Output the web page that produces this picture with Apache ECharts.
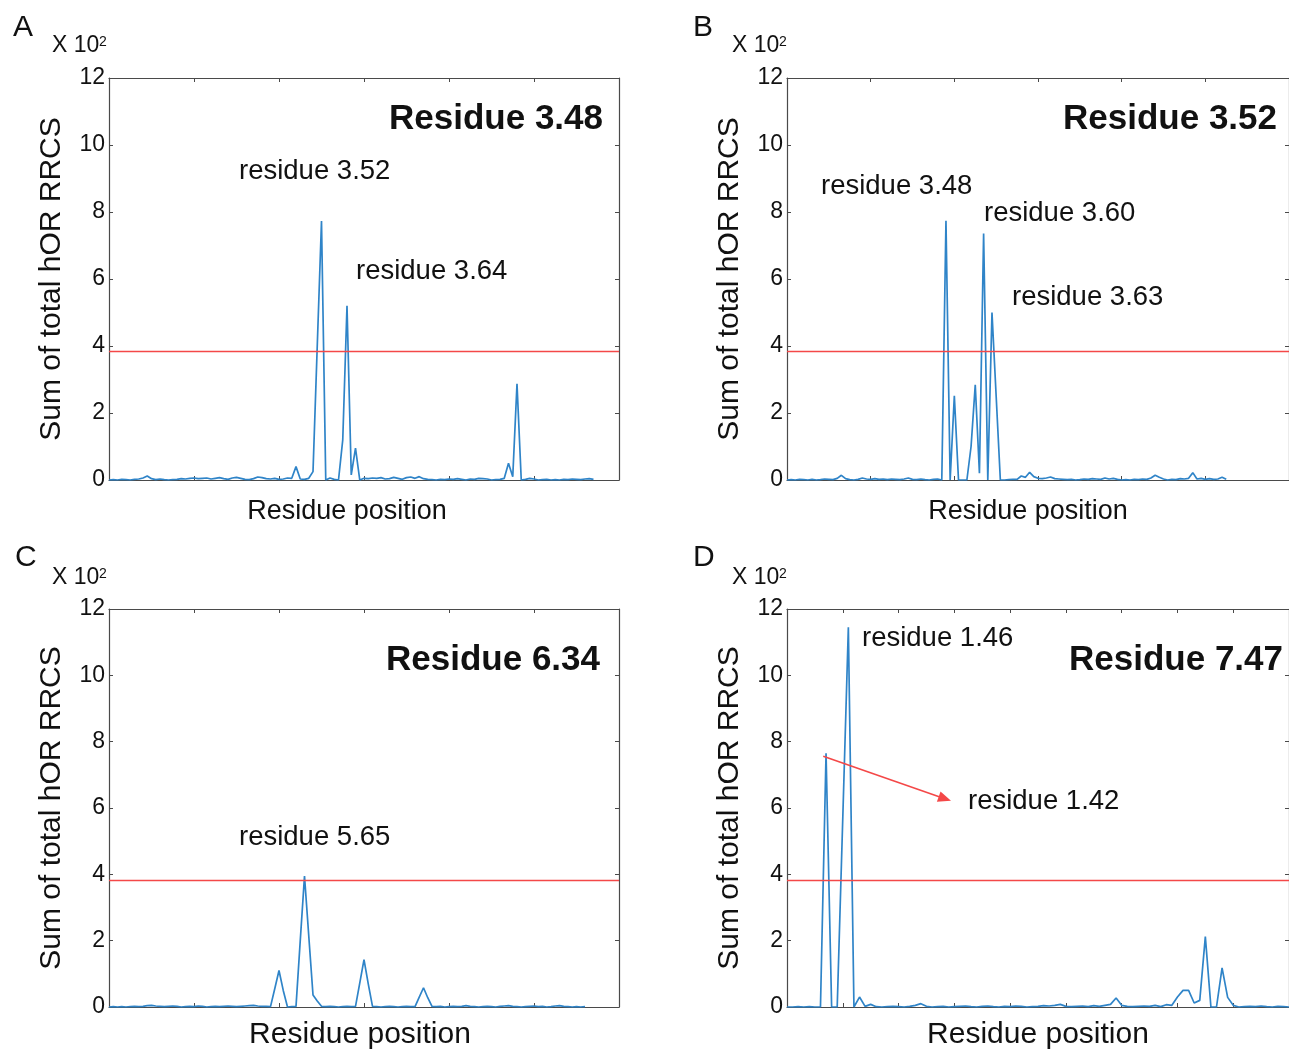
<!DOCTYPE html>
<html>
<head>
<meta charset="utf-8">
<title>hOR RRCS by residue position</title>
<script src="https://cdn.jsdelivr.net/npm/echarts@6/dist/echarts.min.js"></script>
<style>
  html, body { margin: 0; padding: 0; background: #ffffff; }
  #chart { width: 1289px; height: 1051px; }
</style>
</head>
<body>
<div id="chart"></div>
<script>
// Sum of total hOR RRCS (x 10^2) along the residue position, four residues of interest.
const threshold = 3.83;
const yTickLabels = ['0', '2', '4', '6', '8', '10', '12'];

const titleA = 'Residue 3.48';
const titleB = 'Residue 3.52';
const titleC = 'Residue 6.34';
const titleD = 'Residue 7.47';

const rrcsA = [
  0, 0.01, 0, 0.02, 0.01, 0, 0.02, 0.03, 0.06, 0.12,
  0.04, 0.01, 0.03, 0.01, 0, 0.01, 0.02, 0.04, 0.03, 0.05,
  0.06, 0.04, 0.05, 0.06, 0.03, 0.05, 0.07, 0.04, 0.02, 0.06,
  0.08, 0.05, 0.02, 0.01, 0.04, 0.09, 0.07, 0.04, 0.03, 0.05,
  0.02, 0.03, 0.06, 0.05, 0.4, 0.03, 0.02, 0.05, 0.25, 4.0,
  7.73, 0, 0.06, 0.02, 0, 1.2, 5.2, 0.15, 0.95, 0,
  0.05, 0.04, 0.06, 0.05, 0.07, 0.03, 0.04, 0.08, 0.05, 0.02,
  0.07, 0.09, 0.05, 0.1, 0.04, 0.02, 0.01, 0, 0.02, 0.01,
  0.03, 0.02, 0.04, 0.02, 0, 0.03, 0.02, 0.05, 0.04, 0.03,
  0, 0.01, 0.02, 0.05, 0.5, 0.1, 2.87, 0, 0.02, 0.05,
  0.03, 0, 0.01, 0.02, 0, 0.01, 0, 0.02, 0.01, 0.03,
  0.02, 0.01, 0.03, 0.04, 0.02
];
const labelsA = ['residue 3.52', 'residue 3.64'];

const rrcsB = [
  0, 0.01, 0, 0.02, 0.01, 0, 0.02, 0, 0.01, 0.03,
  0.02, 0.01, 0.05, 0.14, 0.04, 0.01, 0, 0.02, 0.06, 0.03,
  0.02, 0.04, 0.02, 0.03, 0.01, 0.03, 0.02, 0.01, 0.03, 0.06,
  0.02, 0.01, 0.03, 0.01, 0, 0.02, 0.03, 0, 7.74, 0,
  2.51, 0, 0, 0, 1.0, 2.84, 0.2, 7.36, 0, 5.0,
  2.5, 0, 0, 0.01, 0.02, 0.02, 0.12, 0.08, 0.23, 0.1,
  0.05, 0.04, 0.06, 0.09, 0.04, 0.03, 0.02, 0.01, 0.02, 0,
  0.01, 0.03, 0.02, 0.04, 0.03, 0.02, 0.06, 0.03, 0.05, 0.02,
  0, 0.01, 0, 0.02, 0.01, 0.03, 0.02, 0.06, 0.14, 0.08,
  0.03, 0, 0.02, 0.01, 0.04, 0.03, 0.05, 0.22, 0.03, 0.05,
  0.02, 0.04, 0.02, 0.03, 0.08, 0.02
];
const labelsB = ['residue 3.48', 'residue 3.60', 'residue 3.63'];

const rrcsC = [
  0, 0.01, 0, 0.01, 0, 0.01, 0.02, 0.01, 0.02, 0.04,
  0.05, 0.03, 0.02, 0.01, 0.02, 0.03, 0.02, 0, 0.01, 0.02,
  0.01, 0.03, 0.02, 0, 0.01, 0.02, 0.01, 0.02, 0.03, 0.02,
  0.01, 0.02, 0.03, 0.04, 0.05, 0.03, 0.02, 0.02, 0.01, 0.55,
  1.1, 0.5, 0, 0.01, 0.02, 2.0, 3.95, 2.15, 0.36, 0.18,
  0.02, 0.01, 0.02, 0.01, 0, 0.01, 0.02, 0.01, 0.02, 0.72,
  1.43, 0.7, 0.02, 0.01, 0, 0.01, 0.02, 0.01, 0, 0.01,
  0.02, 0.01, 0.01, 0.3, 0.58, 0.28, 0.02, 0.01, 0.02, 0,
  0.01, 0.02, 0.01, 0.02, 0.04, 0.02, 0.01, 0, 0.01, 0.02,
  0.01, 0, 0.02, 0.03, 0.04, 0.02, 0.01, 0, 0.01, 0.02,
  0.03, 0.01, 0.02, 0, 0.01, 0.03, 0.04, 0.02, 0.01, 0,
  0.01, 0, 0.01
];
const labelsC = ['residue 5.65'];

const rrcsD = [
  0, 0, 0.01, 0, 0.01, 0, 0, 7.65, 0, 0,
  5.7, 11.45, 0, 0.3, 0.02, 0.08, 0.01, 0, 0.01, 0.02,
  0.01, 0, 0.02, 0.05, 0.1, 0.02, 0, 0.01, 0.02, 0,
  0.01, 0.02, 0.03, 0.01, 0, 0.02, 0.03, 0.01, 0, 0.02,
  0.01, 0.03, 0.02, 0, 0.01, 0.02, 0.04, 0.03, 0.05, 0.08,
  0.02, 0.01, 0.02, 0.03, 0.01, 0.04, 0.02, 0.05, 0.08, 0.27,
  0.05, 0.02, 0.01, 0.02, 0.03, 0.02, 0.05, 0.01, 0.07, 0.05,
  0.3, 0.5, 0.5, 0.12, 0.2, 2.12, 0, 0, 1.18, 0.29,
  0.05, 0, 0.01, 0.02, 0.01, 0.03, 0.01, 0, 0.02, 0.01,
  0
];
const labelsD = ['residue 1.46', 'residue 1.42'];
// arrow from the residue 1.42 peak toward its label: [position, RRCS]
const arrowD = [[6.5, 7.56], [28.3, 6.28]];

// ---------- layout and styling ----------
const FONT = '"Liberation Sans", Arial, Helvetica, sans-serif';
const INK = '#111111';
const FRAME = '#4a4a4a';
const BLUE = '#2f84c8';
const RED = '#f44848';

const panels = [
  { key: 'A', data: rrcsA, title: titleA, labels: labelsA,
    grid: { left: 109, top: 78, width: 510, height: 402 }, xMax: 120, xStep: 20,
    xName: { size: 27, shift: 34, gap: 18 },
    letter: [13, 28], mult: [52, 46], titlePos: [603, 119],
    labelPos: [[239, 171], [356, 271]] },
  { key: 'B', data: rrcsB, title: titleB, labels: labelsB,
    grid: { left: 787, top: 78, width: 511, height: 402 }, xMax: 120, xStep: 20,
    xName: { size: 27, shift: 20, gap: 18 },
    letter: [693, 28], mult: [732, 46], titlePos: [1277, 119],
    labelPos: [[821, 186], [984, 213], [1012, 297]] },
  { key: 'C', data: rrcsC, title: titleC, labels: labelsC,
    grid: { left: 109, top: 609, width: 510, height: 403 }, xMax: 120, xStep: 20,
    xName: { size: 30, shift: 8, gap: 13 },
    letter: [15, 558], mult: [52, 578], titlePos: [600, 660],
    labelPos: [[239, 837]] },
  { key: 'D', data: rrcsD, title: titleD, labels: labelsD,
    grid: { left: 787, top: 609, width: 511, height: 404 }, xMax: 90, xStep: 10,
    xName: { size: 30, shift: 0, gap: 13 },
    letter: [693, 558], mult: [732, 578], titlePos: [1283, 660],
    labelPos: [[862, 638], [968, 801]], arrow: arrowD }
];

const grids = [], xAxes = [], yAxes = [], series = [], graphics = [];

function tickStyle() {
  return { show: true, inside: true, length: 4, lineStyle: { color: FRAME, width: 1 } };
}

panels.forEach((p, i) => {
  grids.push(Object.assign({ containLabel: false }, p.grid));

  const xBase = {
    gridIndex: i, type: 'value', min: 0, max: p.xMax, interval: p.xStep,
    axisLine: { show: true, onZero: false, lineStyle: { color: FRAME, width: 1.2 } },
    axisTick: tickStyle(),
    axisLabel: { show: false },
    splitLine: { show: false }
  };
  xAxes.push(Object.assign({}, xBase, {
    position: 'bottom',
    name: 'Residue position',
    nameLocation: 'middle',
    nameGap: p.xName.gap,
    nameTextStyle: {
      fontFamily: FONT, fontSize: p.xName.size, color: INK,
      verticalAlign: 'top', padding: [0, p.xName.shift, 0, 0]
    }
  }));
  xAxes.push(Object.assign({}, xBase, { position: 'top' }));

  const yBase = {
    gridIndex: i, type: 'value', min: 0, max: 12, interval: 2,
    axisLine: { show: true, onZero: false, lineStyle: { color: FRAME, width: 1.2 } },
    axisTick: tickStyle(),
    splitLine: { show: false }
  };
  yAxes.push(Object.assign({}, yBase, {
    position: 'left',
    axisLabel: {
      show: true, margin: 4, fontFamily: FONT, fontSize: 23, color: INK,
      formatter: v => yTickLabels[Math.round(v / 2)]
    },
    name: 'Sum of total hOR RRCS',
    nameLocation: 'middle',
    nameGap: 42,
    nameTextStyle: { fontFamily: FONT, fontSize: 30, color: INK }
  }));
  yAxes.push(Object.assign({}, yBase, { position: 'right', axisLabel: { show: false } }));

  const markData = [{ yAxis: threshold, lineStyle: { color: RED, width: 1.4, type: 'solid' } }];
  if (p.arrow) {
    markData.push([
      { coord: p.arrow[0], symbol: 'none' },
      { coord: p.arrow[1], symbol: 'triangle', symbolSize: [11, 13],
        lineStyle: { color: RED, width: 1.6, type: 'solid' } }
    ]);
  }

  series.push({
    type: 'line',
    name: p.title,
    xAxisIndex: 2 * i,
    yAxisIndex: 2 * i,
    data: p.data.map((v, k) => [k, v]),
    showSymbol: false,
    symbol: 'none',
    lineStyle: { color: BLUE, width: 1.7 },
    itemStyle: { color: BLUE },
    clip: true,
    z: 3,
    markLine: {
      silent: true,
      symbol: 'none',
      label: { show: false },
      lineStyle: { color: RED, width: 1.4, type: 'solid' },
      data: markData,
      animation: false,
      z: 4
    }
  });

  // panel letter and the "x 10^2" multiplier
  graphics.push({ type: 'text', x: p.letter[0], y: p.letter[1],
    style: { text: p.key, fontFamily: FONT, fontSize: 30, fill: INK, align: 'left', verticalAlign: 'middle' } });
  graphics.push({ type: 'text', x: p.mult[0], y: p.mult[1],
    style: { text: 'X 10', fontFamily: FONT, fontSize: 23, fill: INK, align: 'left', verticalAlign: 'middle' } });
  graphics.push({ type: 'text', x: p.mult[0] + 47, y: p.mult[1] - 4,
    style: { text: '2', fontFamily: FONT, fontSize: 14, fill: INK, align: 'left', verticalAlign: 'middle' } });

  // bold panel title
  graphics.push({ type: 'text', x: p.titlePos[0], y: p.titlePos[1],
    style: { text: p.title, fontFamily: FONT, fontSize: 35, fontWeight: 'bold', fill: INK,
      align: 'right', verticalAlign: 'middle' } });

  // peak annotations
  p.labels.forEach((t, k) => {
    graphics.push({ type: 'text', x: p.labelPos[k][0], y: p.labelPos[k][1],
      style: { text: t, fontFamily: FONT, fontSize: 27.5, fill: INK, align: 'left', verticalAlign: 'middle' } });
  });
});

const chart = echarts.init(document.getElementById('chart'), null, { renderer: 'canvas' });
chart.setOption({
  backgroundColor: '#ffffff',
  animation: false,
  grid: grids,
  xAxis: xAxes,
  yAxis: yAxes,
  series: series,
  graphic: graphics
});
</script>
</body>
</html>
